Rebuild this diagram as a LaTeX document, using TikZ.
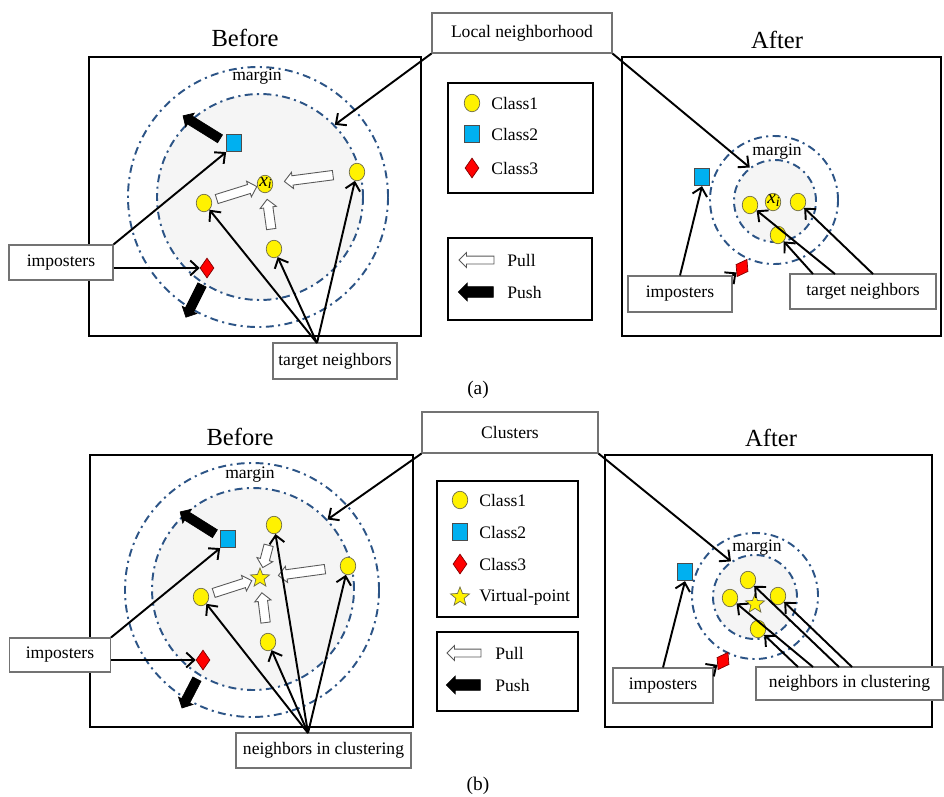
\documentclass[tikz,border=0pt]{standalone}
\usepackage{fontspec}
\setmainfont{Liberation Serif}
\usetikzlibrary{arrows.meta,shapes.geometric,shapes.arrows}
\definecolor{ringblue}{RGB}{44,84,134}
\definecolor{sqblue}{RGB}{0,176,240}
\tikzset{
  panel/.style={draw, line width=0.9pt},
  legbox/.style={draw, line width=1.4pt},
  tagbox/.style={draw=black!55, line width=0.6pt, fill=white, inner sep=0pt, font=\fontsize{10}{12}\selectfont},
  title/.style={font=\fontsize{14}{16}\selectfont},
  txt/.style={font=\fontsize{10}{12}\selectfont, inner sep=0pt},
  ring/.style={circle, draw=ringblue, line width=1.1pt, dash pattern=on 4.5pt off 2.5pt on 1.2pt off 2.5pt, inner sep=0pt},
  inring/.style={ring, fill=black!4},
  clsone/.style={ellipse, draw=yellow!35!black, fill=yellow, minimum width=3.1mm, minimum height=3.5mm, inner sep=0pt},
  clstwo/.style={rectangle, draw=black!70, fill=sqblue, minimum width=3mm, minimum height=3.5mm, inner sep=0pt},
  clsthree/.style={diamond, draw=red!50!black, fill=red, minimum width=2.8mm, minimum height=4mm, inner sep=0pt},
  vpoint/.style={star, star points=5, star point ratio=2.3, draw=yellow!35!black, fill=yellow, minimum size=4mm, inner sep=0pt},
  pullarr/.style={single arrow, draw=black!65, fill=white, line width=0.5pt, inner xsep=0pt, inner ysep=0.85mm, single arrow head extend=0.7mm, minimum height=#1},
  pusharr/.style={single arrow, draw, fill=black, inner xsep=0pt, inner ysep=0.85mm, single arrow head extend=0.7mm, minimum height=#1},
  link/.style={line width=1.1pt, -{Straight Barb[length=1.6mm,width=3mm]}},
  xlab/.style={font=\fontsize{11}{13}\selectfont, inner sep=0pt}
}
\begin{document}
\begin{tikzpicture}[x=0.2mm,y=-0.2mm]
  \useasboundingbox (0,0) rectangle (944,796);

  % (a) local neighborhood
  \node[title] (bfA) at (245,38) {Before};
  \node[title] (afA) at (777,40) {After};
  \draw[panel] (89,57) rectangle (421,336);
  \draw[panel] (622,57) rectangle (941,336);
  \node[tagbox, minimum width=36mm, minimum height=8mm] (locA) at (522,33) {Local neighborhood};

  \node[ring, minimum size=52mm] (oA) at (258,197) {};
  \node[inring, minimum size=41.2mm] (iA) at (260,197) {};
  \node[txt] (mgA) at (257,77) {margin};
  \node[clstwo] (sqA) at (234,143) {};
  \node[clsthree] (dmA) at (207,268) {};
  \node[clsone] (xiA) at (265,184) {};
  \node[xlab] (xlA) at (266,183) {\textit{x}\textsubscript{\textit{i}}};
  \node[clsone] (c1) at (204,203) {};
  \node[clsone] (c2) at (274,249) {};
  \node[clsone] (c3) at (357,172) {};
  \path (c1.center) -- node[pullarr=8.4mm, sloped, allow upside down] (pa1) {} (xiA.center);
  \path (c2.center) -- node[pullarr=6mm, sloped, allow upside down] (pa2) {} (xiA.center);
  \path (c3.center) -- node[pullarr=9.8mm, sloped, allow upside down] (pa3) {} (xiA.center);
  \path (222,140) -- node[pusharr=8.7mm, sloped, allow upside down] (pb1) {} (185,117);
  \path (203,283) -- node[pusharr=7.2mm, sloped, allow upside down] (pb2) {} (187,315);

  \node[tagbox, minimum width=20.8mm, minimum height=7mm] (impA) at (61,262.5) {imposters};
  \node[tagbox, minimum width=24.8mm, minimum height=7.2mm] (tgtA) at (335,361) {target neighbors};
  \coordinate (tgA) at (317,343);
  \draw[link] (impA.north east) -- (sqA.south west);
  \draw[link] (impA.east |- dmA) -- (dmA.west);
  \draw[link] (tgA) -- (c1);
  \draw[link] (tgA) -- (c2);
  \draw[link] (tgA) -- (c3);

  \draw[legbox] (448,83) rectangle (593,193);
  \node[clsone] (lc1) at (472,103) {};
  \node[clstwo] (lc2) at (472,134) {};
  \node[clsthree] (lc3) at (472,168) {};
  \node[txt, anchor=west] (lt1) at (491,103) {Class1};
  \node[txt, anchor=west] (lt2) at (491,134) {Class2};
  \node[txt, anchor=west] (lt3) at (491,168) {Class3};
  \draw[legbox] (448,238) rectangle (592,320);
  \node[pullarr=7mm, inner ysep=0.7mm, shape border rotate=180] (lpl) at (478.5,260) {};
  \node[pusharr=7mm, inner ysep=1mm, shape border rotate=180] (lps) at (478.5,292) {};
  \node[txt, anchor=west] (lt4) at (507,260) {Pull};
  \node[txt, anchor=west] (lt5) at (507,292) {Push};

  \node[ring, minimum size=25.6mm] (oB) at (774,200) {};
  \node[inring, minimum size=16.4mm] (iB) at (775,201) {};
  \node[txt] (mgB) at (777,152) {margin};
  \node[clstwo] (sqB) at (702,177) {};
  \node[clsthree, rotate=-30] (dmB) at (742,268) {};
  \node[clsone] (d1) at (750,205) {};
  \node[clsone] (xiB) at (773,202) {};
  \node[xlab] (xlB) at (774,201) {\textit{x}\textsubscript{\textit{i}}};
  \node[clsone] (d2) at (778,235) {};
  \node[clsone] (d3) at (798,202) {};
  \node[tagbox, minimum width=20.8mm, minimum height=7.2mm] (impB) at (680,294) {imposters};
  \node[tagbox, minimum width=29.2mm, minimum height=7mm] (tgtB) at (863,291.5) {target neighbors};
  \coordinate (tgB1) at (813,274);
  \coordinate (tgB2) at (835,274);
  \coordinate (tgB3) at (873,274);
  \draw[link] (impB.north) -- (sqB.south);
  \draw[link] (impB.north east) -- (dmB);
  \draw[link] (tgB1) -- (d2);
  \draw[link] (tgB2) -- (d1);
  \draw[link] (tgB3) -- (d3);

  \draw[link] (locA.south west) -- (iA.44);
  \draw[link] (locA.south east) -- (iB.127);
  \node[font=\fontsize{11}{13}\selectfont] (capA) at (478,390) {(a)};

  % (b) clusters
  \node[title] (bfB) at (240,437) {Before};
  \node[title] (afB) at (771,438) {After};
  \draw[panel] (90,455) rectangle (413,727);
  \draw[panel] (605,455) rectangle (932,727);
  \node[tagbox, minimum width=35.2mm, minimum height=8.2mm] (clB) at (510,432.5) {Clusters};

  \node[ring, minimum size=50.8mm] (oC) at (252,590) {};
  \node[inring, minimum size=40.4mm] (iC) at (253,589) {};
  \node[txt] (mgC) at (250,475) {margin};
  \node[clstwo] (sqC) at (228,539) {};
  \node[clsthree] (dmC) at (203,660) {};
  \node[vpoint] (vpC) at (260,578) {};
  \node[clsone] (e1) at (274,525) {};
  \node[clsone] (e2) at (348,566) {};
  \node[clsone] (e3) at (201,597) {};
  \node[clsone] (e4) at (268,642) {};
  \path (e3.center) -- node[pullarr=8mm, sloped, allow upside down] (pa4) {} (vpC.center);
  \path (e4.center) -- node[pullarr=6mm, sloped, allow upside down] (pa5) {} (vpC.center);
  \path (e2.center) -- node[pullarr=9.4mm, sloped, allow upside down] (pa6) {} (vpC.center);
  \path (e1.center) -- node[pullarr=4.6mm, sloped, allow upside down, pos=0.55] (pa7) {} (vpC.center);
  \path (217,535) -- node[pusharr=8.2mm, sloped, allow upside down] (pb3) {} (182,513);
  \path (198,677) -- node[pusharr=6.5mm, sloped, allow upside down] (pb4) {} (183,706);

  \node[tagbox, minimum width=20.2mm, minimum height=6.8mm] (impC) at (60,655) {imposters};
  \node[tagbox, minimum width=35mm, minimum height=7mm] (nbC) at (323.5,750.5) {neighbors in clustering};
  \coordinate (nbA) at (308,733);
  \draw[link] (impC.north east) -- (sqC.south west);
  \draw[link] (impC.east |- dmC) -- (dmC.west);
  \draw[link] (nbA) -- (e3);
  \draw[link] (nbA) -- (e4);
  \draw[link] (nbA) -- (e1);
  \draw[link] (nbA) -- (e2);

  \draw[legbox] (437,481) rectangle (578,617);
  \node[clsone] (lc4) at (460,500) {};
  \node[clstwo] (lc5) at (460,532) {};
  \node[clsthree] (lc6) at (460,564) {};
  \node[vpoint] (lc7) at (460,597) {};
  \node[txt, anchor=west] (lt6) at (479,500) {Class1};
  \node[txt, anchor=west] (lt7) at (479,532) {Class2};
  \node[txt, anchor=west] (lt8) at (479,564) {Class3};
  \node[txt, anchor=west] (lt9) at (479,597) {Virtual-point};
  \draw[legbox] (437,632) rectangle (578,711);
  \node[pullarr=6.8mm, inner ysep=0.7mm, shape border rotate=180] (lpl2) at (466,653) {};
  \node[pusharr=6.8mm, inner ysep=1mm, shape border rotate=180] (lps2) at (466,685) {};
  \node[txt, anchor=west] (lt10) at (495,653) {Pull};
  \node[txt, anchor=west] (lt11) at (495,685) {Push};

  \node[ring, minimum size=25.2mm] (oD) at (755,596) {};
  \node[inring, minimum size=16.8mm] (iD) at (755,597) {};
  \node[txt] (mgD) at (757,548) {margin};
  \node[clstwo] (sqD) at (685,572) {};
  \node[clsthree, rotate=-30] (dmD) at (723,661) {};
  \node[vpoint] (vpD) at (755,604) {};
  \node[clsone] (f1) at (748,580) {};
  \node[clsone] (f2) at (730,598) {};
  \node[clsone] (f3) at (778,596) {};
  \node[clsone] (f4) at (758,629) {};
  \node[tagbox, minimum width=20mm, minimum height=7mm] (impD) at (663,685.5) {imposters};
  \node[tagbox, minimum width=37.4mm, minimum height=6.6mm] (nbD) at (849.5,683.5) {neighbors in clustering};
  \coordinate (nbB1) at (798,667);
  \coordinate (nbB2) at (813,667);
  \coordinate (nbB3) at (839,667);
  \coordinate (nbB4) at (852,667);
  \draw[link] (impD.north) -- (sqD.south);
  \draw[link] (impD.north east) -- (dmD);
  \draw[link] (nbB1) -- (f4);
  \draw[link] (nbB2) -- (f2);
  \draw[link] (nbB3) -- (f1);
  \draw[link] (nbB4) -- (f3);

  \draw[link] (clB.south west) -- (iC.43);
  \draw[link] (clB.south east) -- (iD.124);
  \node[font=\fontsize{11}{13}\selectfont] (capB) at (478,786) {(b)};
\end{tikzpicture}
\end{document}
